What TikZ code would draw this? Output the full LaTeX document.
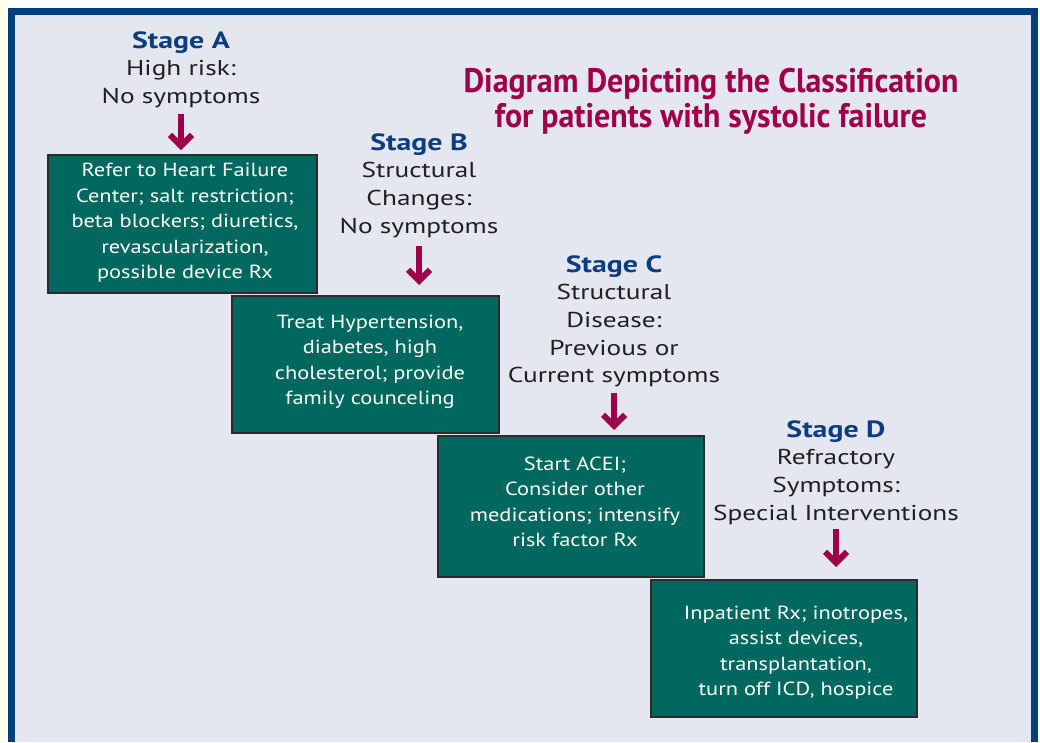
\documentclass[tikz,border=0pt]{standalone}
\usepackage{fontspec}
\setmainfont{PT Sans}
\usetikzlibrary{arrows.meta}
\definecolor{bgc}{HTML}{E4E6F0}
\definecolor{framec}{HTML}{003F7F}
\definecolor{creamc}{HTML}{FFFCEA}
\definecolor{tealc}{HTML}{00685E}
\definecolor{edgec}{HTML}{2B2B2B}
\definecolor{crimc}{HTML}{A0004A}
\definecolor{stagec}{HTML}{0B3D80}
\definecolor{txtc}{HTML}{231F20}
\newcommand{\stagetext}[2]{\scalebox{1.27}[1]{\begin{tabular}[t]{@{}c@{}}{\fontsize{23.5}{27.7}\selectfont\bfseries\color{stagec}#1}\\ #2\end{tabular}}}
\newcommand{\boxtext}[3]{\raisebox{#2}[\height][\depth]{\hspace*{#1}\scalebox{1.18}[1]{\begin{tabular}{@{}c@{}}#3\end{tabular}}}}
\begin{document}
\begin{tikzpicture}[x=1pt,y=-1pt,
  stagenode/.style={anchor=base,inner sep=0pt,text=txtc,font=\fontsize{21.5}{27.7}\selectfont},
  stepbox/.style={draw=edgec,line width=2pt,fill=tealc,text=white,inner sep=0pt,font=\fontsize{19}{25.5}\selectfont},
  arr/.style={draw=crimc,line width=6pt,-{Straight Barb[length=11pt,width=22pt]}}]
\useasboundingbox (0,0) rectangle (1040,742);
\fill[white] (0,0) rectangle (1040,742);
\fill[creamc] (0,0) rectangle (7.5,742);
\fill[framec] (8,8) rectangle (1038,742);
\fill[bgc] (15,15) rectangle (1031,742);

\node[anchor=base,inner sep=0pt,text=crimc,font=\fontsize{34}{35}\selectfont\bfseries] (title) at (711,92)
  {\begin{tabular}[t]{@{}c@{}}\resizebox{495pt}{\height}{Diagram Depicting the Classification}\\ \resizebox{432pt}{\height}{for patients with systolic failure}\end{tabular}};

\node[stepbox,minimum width=269pt,minimum height=138pt] (boxA) at (182.5,224)
  {\boxtext{5pt}{1.4pt}{Refer to Heart Failure\\ Center; salt restriction;\\ beta blockers; diuretics,\\ revascularization,\\ possible device Rx}};
\node[stepbox,minimum width=267pt,minimum height=137pt] (boxB) at (365.5,364.5)
  {\boxtext{9pt}{2.9pt}{Treat Hypertension,\\ diabetes, high\\ cholesterol; provide\\ family counceling}};
\node[stepbox,minimum width=266pt,minimum height=141pt] (boxC) at (571,506.5)
  {\boxtext{8pt}{3.2pt}{Start ACEI;\\ Consider other\\ medications; intensify\\ risk factor Rx}};
\node[stepbox,minimum width=266pt,minimum height=137pt] (boxD) at (784,648.5)
  {\boxtext{24pt}{-4.1pt}{Inpatient Rx; inotropes,\\ assist devices,\\ transplantation,\\ turn off ICD, hospice}};

\node[stagenode] (stA) at (181,48) {\stagetext{Stage A}{High risk:\\ No symptoms}};
\node[stagenode] (stB) at (419,150) {\stagetext{Stage B}{Structural\\ Changes:\\ No symptoms}};
\node[stagenode] (stC) at (614,272) {\stagetext{Stage C}{Structural\\ Disease:\\ Previous or\\ Current symptoms}};
\node[stagenode] (stD) at (836,437) {\stagetext{Stage D}{Refractory\\ Symptoms:\\ Special Interventions}};

\draw[arr,shorten <=1.7pt,shorten >=4pt] (stA.south) -- (stA.south |- boxA.north);
\draw[arr,shorten <=4.7pt,shorten >=10pt] (stB.south) -- (stB.south |- boxB.north);
\draw[arr,shorten <=1.7pt,shorten >=5pt] (stC.south) -- (stC.south |- boxC.north);
\draw[arr,shorten <=0.7pt,shorten >=12pt] (stD.south) -- (stD.south |- boxD.north);
\end{tikzpicture}
\end{document}
